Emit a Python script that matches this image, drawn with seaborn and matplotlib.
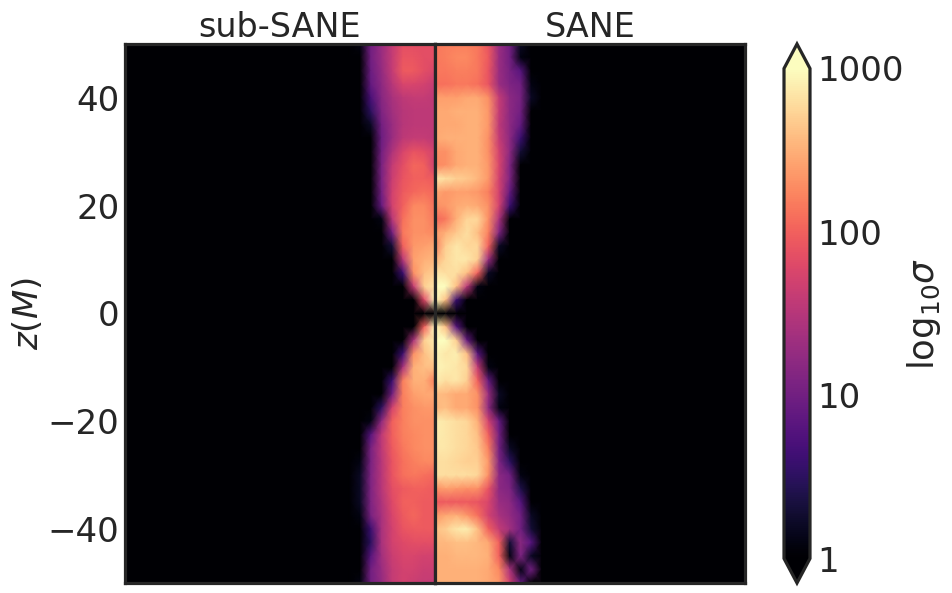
import numpy as np
import pandas as pd
import matplotlib
matplotlib.use("Agg")
import matplotlib.pyplot as plt
import seaborn as sns

# log10(sigma): one row per z level, from the axis (x=0) outward in steps of about 2 M
z_levels = [50 - 2.5 * i for i in range(41)]
sub_sane = [
    [1.85,1.85,1.85,1.85,1.6,1.3,1.0,0.1],
    [1.85,1.85,1.9,1.9,1.6,1.3,1.0,0],
    [1.75,1.85,1.95,1.95,1.6,1.25,0.95,0],
    [1.6,1.7,1.75,1.75,1.5,1.2,0.9,0],
    [1.55,1.6,1.6,1.55,1.4,1.15,0.7,0],
    [1.55,1.55,1.55,1.5,1.35,1.1,0.5,0],
    [1.55,1.55,1.55,1.5,1.3,1.0,0.2,0],
    [1.55,1.6,1.6,1.55,1.3,0.95,0],
    [1.7,1.85,1.9,1.75,1.45,1.0,0],
    [1.65,2.0,2.05,1.85,1.6,1.05,0],
    [1.95,2.0,2.0,1.9,1.65,1.05,0],
    [2.05,2.1,2.05,1.95,1.7,1.0,0],
    [2.1,2.25,2.25,2.0,1.7,0.9,0],
    [2.15,2.3,2.3,2.1,1.5,0.1,0],
    [2.25,2.3,2.3,2.15,1.0,0],
    [2.45,2.4,2.35,2.0,0.3,0],
    [2.55,2.5,2.4,1.5,0],
    [2.7,2.6,2.3,0.6,0],
    [2.85,2.7,1.6,0],
    [3,1.8,0],
    [0,0,0],
    [3,2.0,0],
    [2.9,2.7,1.4,0],
    [2.8,2.6,2.3,0.6,0],
    [2.6,2.6,2.5,1.4,0],
    [2.2,2.5,2.5,2.2,0.6,0],
    [2.45,2.45,2.4,2.2,1.0,0],
    [2.35,2.35,2.3,2.2,1.7,0.5,0],
    [2.3,2.3,2.3,2.2,2.0,1.2,0.1,0],
    [2.3,2.3,2.25,2.2,2.0,1.55,0.8,0],
    [2.3,2.3,2.25,2.15,1.95,1.55,1.05,0],
    [2.25,2.25,2.2,2.1,1.9,1.5,1.05,0.1],
    [2.05,2.1,2.15,2.1,1.9,1.5,1.1,0.2],
    [1.95,2,2,1.95,1.85,1.5,1.1,0.2],
    [1.95,1.95,2,2,1.8,1.45,1.1,0.2],
    [1.95,1.95,2.05,1.95,1.75,1.4,1.05,0.1],
    [1.95,1.95,1.95,1.9,1.7,1.4,0.6,0],
    [1.85,1.85,1.85,1.8,1.7,1.4,0.5,0],
    [1.7,1.7,1.75,1.75,1.65,1.35,0.8,0],
    [1.65,1.65,1.7,1.7,1.6,1.3,1.0,0],
    [1.6,1.6,1.65,1.7,1.6,1.25,1.0,0.1],
]
sane = [
    [2.15,2.2,2.2,2.2,2.15,1.9,1.3,1.0,0.2,0],
    [2.15,2.2,2.25,2.25,2.15,1.95,1.3,1.0,0.1,0],
    [2.15,2.15,2.2,2.2,2.15,1.9,1.3,1.05,0.8,0],
    [2.1,2.1,2.15,2.15,2.1,1.9,1.3,1.1,1.0,0.1],
    [2.4,2.4,2.4,2.45,2.45,2.3,1.6,1.2,1.05,0.2],
    [2.45,2.45,2.5,2.5,2.5,2.35,1.6,1.2,1.0,0],
    [2.45,2.45,2.45,2.5,2.5,2.35,1.55,1.2,0.9,0],
    [2.45,2.5,2.5,2.5,2.5,2.3,1.6,1.2,0.6,0],
    [2.3,2.3,2.45,2.5,2.5,2.3,1.7,1.2,0.3,0],
    [2.25,2.3,2.45,2.5,2.5,2.35,1.75,1.1,0],
    [2.85,2.8,2.7,2.65,2.55,2.35,1.7,1.1,0],
    [2.45,2.35,2.4,2.4,2.35,2.2,1.7,0.9,0],
    [2.3,2.35,2.45,2.5,2.45,2.3,1.7,0.6,0],
    [2.05,2.15,2.5,2.75,2.75,2.3,1.4,0],
    [2.35,2.5,2.65,2.8,2.6,2.2,1.1,0],
    [2.2,2.7,2.85,2.75,2.75,2.0,0.2,0],
    [2.5,2.75,2.85,2.85,2.7,1.3,0],
    [2.85,2.8,2.8,2.6,2.0,0.2,0],
    [3,3,2.6,1.5,0.1,0],
    [3,2.6,0.6,0],
    [0,0,0],
    [3,2.6,0.8,0],
    [3,3,2.7,0.9,0],
    [2.95,2.85,2.9,2.6,0.8,0],
    [2.95,2.9,2.85,2.75,1.6,0.1,0],
    [2.9,2.8,2.85,2.7,2.0,0.9,0],
    [2.6,2.55,2.45,2.45,2.3,1.3,0.2,0],
    [2.55,2.6,2.45,2.45,2.3,1.2,0.1,0],
    [2.9,2.85,2.8,2.75,2.5,1.7,0.9,0],
    [2.9,2.85,2.8,2.75,2.6,2.0,1.0,0],
    [2.85,2.85,2.8,2.75,2.65,2.2,1.0,0.2,0],
    [2.8,2.8,2.75,2.7,2.7,2.35,1.1,0.5,0],
    [2.8,2.8,2.8,2.8,2.75,2.3,1.2,1.0,0.1,0],
    [2.3,2.4,2.35,2.3,2.3,1.9,1.2,1.1,0.4,0],
    [1.95,1.95,1.95,1.95,1.9,1.75,1.3,1.2,0.8,0],
    [2.35,2.45,2.5,2.35,2.1,1.7,1.4,1.25,1.0,0.2,0],
    [2.6,2.7,2.85,2.9,2.6,2.0,1.6,1.35,1.0,0.3,0],
    [2.55,2.55,2.6,2.6,2.55,2.45,2.0,0.3,1.2,0.8,0],
    [2.5,2.5,2.55,2.55,2.55,2.5,2.0,0.1,1.1,0.2,0],
    [2.5,2.5,2.5,2.5,2.5,2.45,2.25,1.4,0.1,1.0,0],
    [2.5,2.5,2.5,2.5,2.5,2.45,2.35,1.7,0.9,0],
]
panel_titles = ["sub-SANE", "SANE"]
z_ticks = [40, 20, 0, -20, -40]
z_tick_labels = ["40", "20", "0", "\u221220", "\u221240"]
cbar_ticks = [0, 1, 2, 3]
cbar_tick_labels = ["1", "10", "100", "1000"]

N_COLS = 30
DARK = ".15"
LW = 2.3

sns.set_theme(style="white", rc={"text.color": DARK, "axes.labelcolor": DARK,
                                 "xtick.color": DARK, "ytick.color": DARK})
plt.rcParams["font.family"] = ["DejaVu Sans"]


def table(rows, flip):
    m = np.zeros((len(rows), N_COLS))
    for i, r in enumerate(rows):
        m[i, :len(r)] = r
    if flip:
        m = m[:, ::-1]
    return pd.DataFrame(m, index=z_levels)


W, H = 952, 593
fig = plt.figure(figsize=(W / 100, H / 100), dpi=100)


def box(x0, y0, x1, y1):
    return [x0 / W, 1 - y1 / H, (x1 - x0) / W, (y1 - y0) / H]


ax_l = fig.add_axes(box(125, 44, 435, 583))
ax_r = fig.add_axes(box(435, 44, 745, 583))
cax = fig.add_axes(box(784, 44, 810, 583))
cmap = sns.color_palette("magma", as_cmap=True)

common = dict(cmap=cmap, vmin=0, vmax=3, shading="gouraud",
              xticklabels=False, yticklabels=False)
sns.heatmap(table(sub_sane, True), ax=ax_l, cbar=True, cbar_ax=cax,
            cbar_kws={"extend": "both"}, **common)
sns.heatmap(table(sane, False), ax=ax_r, cbar=False, **common)

n = len(z_levels)
for ax, title in zip((ax_l, ax_r), panel_titles):
    ax.set_xlim(0, N_COLS - 1)
    ax.set_ylim(n - 1, 0)
    ax.set_title(title, fontsize=24, color=DARK, pad=5)
    ax.set_ylabel("")
    for s in ax.spines.values():
        s.set_visible(True)
        s.set_color(DARK)
        s.set_linewidth(LW)
    ax.tick_params(length=0)
    ax.set_xticks([])

ax_l.set_yticks([(z_levels[0] - z) / 2.5 for z in z_ticks])
ax_l.set_yticklabels(z_tick_labels, fontsize=24.5, rotation=0, color=DARK)
ax_l.tick_params(axis="y", pad=4)
ax_r.set_yticks([])
ax_l.set_ylabel(r"$z(M)$", fontsize=24.5, color=DARK, labelpad=2)

cb = ax_l.collections[0].colorbar
cb.set_ticks(cbar_ticks)
cb.set_ticklabels(cbar_tick_labels)
cb.ax.tick_params(labelsize=24.5, length=0, pad=5, colors=DARK)
cb.outline.set_visible(True)
cb.outline.set_edgecolor(DARK)
cb.outline.set_linewidth(LW)
cb.set_label(r"$\mathrm{log}_{10}\sigma$", fontsize=25.5, color=DARK, labelpad=1)

fig.savefig("out.png", dpi=100)
